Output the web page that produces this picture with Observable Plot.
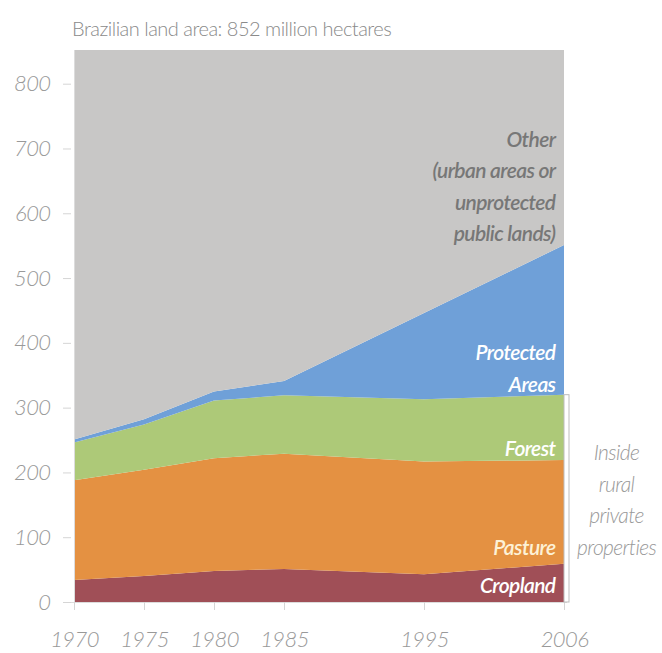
<!DOCTYPE html>
<html><head><meta charset="utf-8">
<script src="https://cdn.jsdelivr.net/npm/d3@7"></script>
<script src="https://cdn.jsdelivr.net/npm/@observablehq/plot@0.6"></script>
<style>
body{margin:0;background:#fff;font-family:Lato,"Open Sans",sans-serif;}
#title{height:44px;box-sizing:border-box;padding:18px 0 0 72px;font-size:20px;font-weight:300;color:#8a8a8a;line-height:20px;white-space:nowrap;letter-spacing:-0.5px;}
svg text{letter-spacing:-0.6px;}
</style></head><body>
<div id="title">Brazilian land area: 852 million hectares</div>
<div id="chart"></div>
<script>
const years = [1970, 1975, 1980, 1985, 1995, 2006];
const slots = [1970, 1975, 1980, 1985, 1990, 1995, 2000, 2006];
const categories = ["Cropland", "Pasture", "Forest", "Protected Areas", "Other"];
const cropland = [34, 40, 48, 51, 43, 59];
const pasture = [154, 164, 174, 178, 174, 160];
const forest = [58, 70, 89, 90, 96, 101];
const protectedAreas = [5, 8, 14, 22, 133, 231];
const other = [601, 570, 527, 511, 406, 301];
const yTicks = [0, 100, 200, 300, 400, 500, 600, 700, 800];
const colors = ["#a04f57", "#e49142", "#adc978", "#6fa0d8", "#c8c7c6"];

const labelText = ["Other\n(urban areas or\nunprotected\npublic lands)", "Protected\nAreas", "Forest", "Pasture", "Cropland"];
const labelY = [646, 365, 241, 89, 30];
const labelColor = ["#777777", "#ffffff", "#ffffff", "#fdf1d6", "#ffffff"];
const bracketText = "Inside\nrural\nprivate\nproperties";
const bracketLabelY = 162;

const series = [cropland, pasture, forest, protectedAreas, other];
const data = [];
categories.forEach((c, i) => years.forEach((yr, j) => data.push({year: yr, type: c, value: series[i][j]})));
const last = years.length - 1;
const bracketTop = cropland[last] + pasture[last] + forest[last];
const labels = labelText.map((t, i) => ({text: t, y: labelY[i], color: labelColor[i]}));

const chart = Plot.plot({
  width: 662, height: 609,
  marginLeft: 71, marginRight: 95, marginTop: 6, marginBottom: 51,
  style: {fontFamily: 'Lato,"Open Sans",sans-serif', fontStyle: "italic", background: "transparent"},
  x: {type: "point", domain: slots, padding: 0},
  y: {domain: [0, 852]},
  color: {domain: categories, range: colors},
  marks: [
    Plot.areaY(data, {x: "year", y: "value", fill: "type", order: categories}),
    Plot.ruleX([1970], {stroke: "#dcdcdc"}),
    Plot.ruleY([0], {stroke: "#dcdcdc"}),
    Plot.axisY(yTicks, {tickSize: 8, tickPadding: 13, fontSize: 22, fontWeight: 300, color: "#999999", stroke: "#d5d5d5", label: null}),
    Plot.axisX(years, {tickSize: 8, tickPadding: 21, fontSize: 22, fontWeight: 300, tickFormat: d => String(d), color: "#999999", stroke: "#d5d5d5", label: null}),
    Plot.rect([bracketTop], {x1: () => 2006, x2: () => 2006, y1: () => 0, y2: d => d, insetRight: -5, fill: "none", stroke: "#bdbdbd"}),
    Plot.text(labels, {x: () => 2006, y: "y", text: "text", fill: "color", textAnchor: "end", dx: -9, fontSize: 21, fontWeight: 600, lineHeight: 1.5}),
    Plot.text([bracketText], {x: () => 2006, y: () => bracketLabelY, text: d => d, fill: "#999999", textAnchor: "middle", dx: 52, fontSize: 21, fontWeight: 300, lineHeight: 1.5})
  ]
});
document.getElementById("chart").appendChild(chart);
</script>
</body></html>
